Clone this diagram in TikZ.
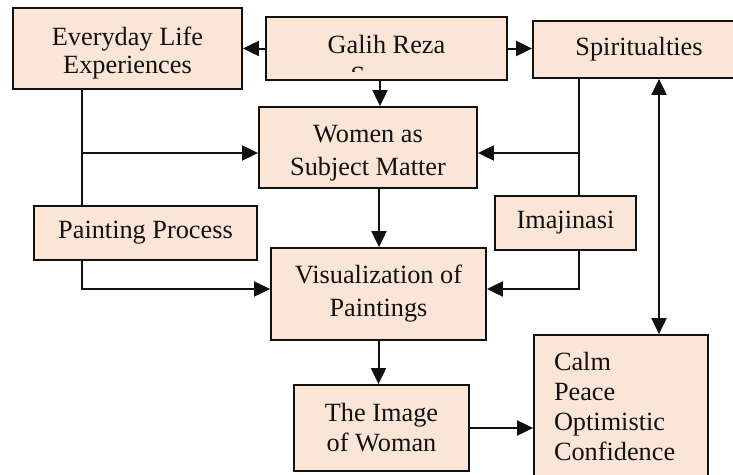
\documentclass[tikz,border=0pt]{standalone}
\usepackage{fontspec}
\setmainfont{Liberation Serif}
\usepackage{xcolor}
\usetikzlibrary{arrows.meta,positioning,calc}
\definecolor{Peach}{HTML}{FBE5D6}
\definecolor{Ink}{HTML}{111111}

\begin{document}
\begin{tikzpicture}[
    x=1pt, y=-1pt,
    font=\fontsize{26.3}{30}\selectfont,
    text=Ink,
    box/.style={
        draw=Ink,
        line width=1.8pt,
        fill=Peach,
        align=center,
        inner sep=0pt
    },
    wide/.style={
        font=\fontsize{26.3}{33}\selectfont
    },
    line/.style={
        draw=Ink,
        line width=2pt
    },
    arrow/.style={
        -{Triangle[length=16pt,width=15pt]},
        line width=2pt,
        draw=Ink
    },
    twoway/.style={
        {Triangle[length=16pt,width=15pt]}-{Triangle[length=16pt,width=15pt]},
        line width=2pt,
        draw=Ink
    }
]

% Canvas
\useasboundingbox (0,0) rectangle (733,474);
\fill[white] (0,0) rectangle (733,474);

% Top row
\node[box, minimum width=229pt, minimum height=81pt, font=\fontsize{26.3}{28}\selectfont]
  (life) at (127.5,48.5)
{\rule{0pt}{28pt}Everyday Life\\Experiences};

\node[box, minimum width=241pt, minimum height=63pt] (galih) at (386.5,48.5) {};
\node[anchor=base] (galihname) at (386.5,53) {Galih Reza};
\begin{scope}
    \clip (266,17) rectangle (507,71);
    \node[anchor=base] (galihcut) at (358,84) {S};
\end{scope}

\node[box, minimum width=212pt, minimum height=57pt] (spirit) at (639,49.5)
{Spiritualties};

% Middle
\node[box, wide, minimum width=218pt, minimum height=81pt] (women) at (368,147.5)
{\rule{0pt}{28pt}Women as\\Subject Matter};

\node[box, minimum width=223pt, minimum height=54pt] (paint) at (145.5,233)
{Painting Process};

\node[box, minimum width=141pt, minimum height=54pt] (imaj) at (565.5,223)
{Imajinasi};

\node[box, wide, minimum width=215pt, minimum height=92pt] (vis) at (378.5,294)
{Visualization of\\Paintings};

% Bottom
\node[box, minimum width=175pt, minimum height=86pt] (image) at (381.5,428)
{The Image\\of Woman};

\node[box, minimum width=174pt, minimum height=142pt, align=left,
      text width=134pt] (calm) at (621,406)
{Calm\\Peace\\Optimistic\\Confidence};

% Join points
\coordinate (ljoin) at (82,153);
\coordinate (pjoin) at (82,289);
\coordinate (rjoin) at (579,153);
\coordinate (ijoin) at (579,289);
\coordinate (dbl) at (659,0);

% Connectors
\draw[arrow] (galih.west) -- (life.east);
\draw[arrow] (galih.east) -- (galih.east -| spirit.west);
\draw[arrow] ([xshift=-6.5pt]galih.south) -- ([xshift=-6.5pt]galih.south |- women.north);

\draw[line] (ljoin |- life.south) -- (ljoin |- paint.north);
\draw[arrow] (ljoin) -- (ljoin -| women.west);
\draw[arrow] (pjoin |- paint.south) -- (pjoin) -- (pjoin -| vis.west);

\draw[line, line width=1.4pt] (rjoin |- spirit.south) -- (rjoin |- imaj.north);
\draw[arrow] (rjoin) -- (rjoin -| women.east);
\draw[arrow] (ijoin |- imaj.south) -- (ijoin) -- (ijoin -| vis.east);

\draw[arrow] ([xshift=11pt]women.south) -- ([xshift=11pt]women.south |- vis.north);
\draw[arrow] (vis.south) -- (vis.south |- image.north);
\draw[arrow] (image.east) -- (image.east -| calm.west);

\draw[twoway] (dbl |- spirit.south) -- (dbl |- calm.north);

\end{tikzpicture}
\end{document}
